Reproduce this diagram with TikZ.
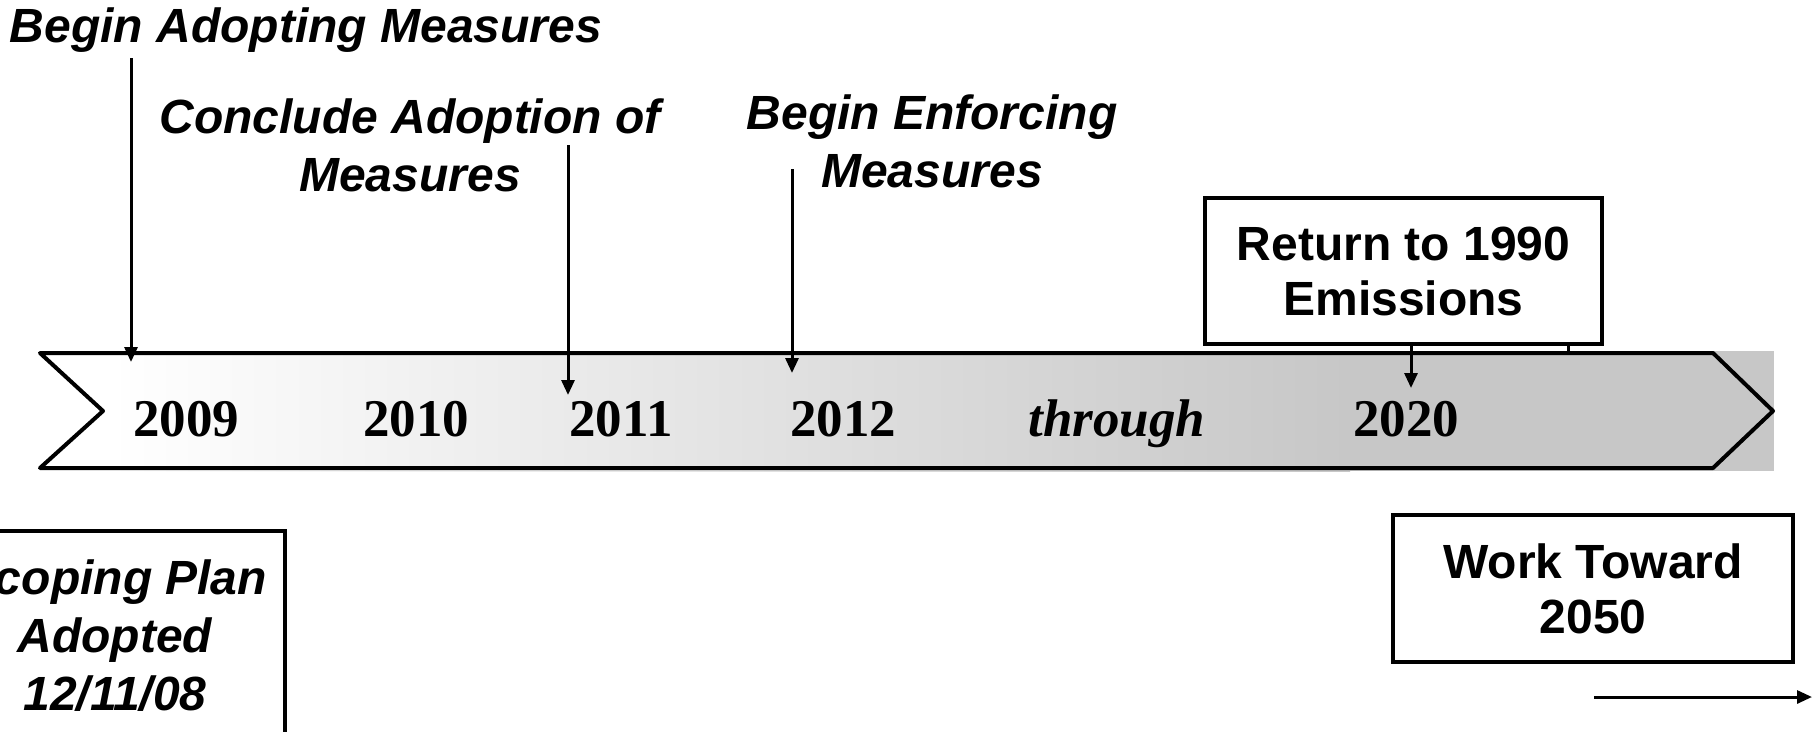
\documentclass[tikz,border=0pt]{standalone}
\usepackage{fontspec}
\setmainfont{Liberation Serif}
\newfontfamily\arialf{Liberation Sans}
\usetikzlibrary{arrows.meta}
\definecolor{bargray}{RGB}{199,199,199}
\tikzset{
  lbl/.style={font=\arialf\bfseries\itshape\fontsize{48}{58}\selectfont, align=center, inner sep=0pt},
  boxlbl/.style={draw, line width=3.5pt, font=\arialf\bfseries\fontsize{48}{55}\selectfont, align=center, inner sep=0pt},
  yr/.style={font=\bfseries\fontsize{53}{60}\selectfont, anchor=base, inner sep=0pt},
  pointer/.style={line width=3pt, -{Triangle[length=15pt,width=13pt]}},
}
\begin{document}
\begin{tikzpicture}[x=1pt,y=-1pt]
\useasboundingbox (0,0) rectangle (1818,731);
\clip (0,0) rectangle (1818,731);
% timeline bar
\fill[white] (40,351) rectangle (111,471);
\shade[left color=white, right color=bargray] (110,351) rectangle (1350,471);
\fill[bargray] (1349,351) rectangle (1774,471);
\draw[line width=4pt, line join=round] (40,353) -- (1713,353) -- (1773,411) -- (1713,468) -- (40,468) -- (103,411) -- cycle;
% years
\node[yr] (y2009) at (186,436) {2009};
\node[yr] (y2010) at (416,436) {2010};
\node[yr] (y2011) at (621,436) {2011};
\node[yr] (y2012) at (843,436) {2012};
\node[yr, font=\bfseries\itshape\fontsize{53}{60}\selectfont] (thr) at (1117,436) {through};
\node[yr] (y2020) at (1406,436) {2020};
% labels
\node[lbl] (adopt) at (306,30) {Begin Adopting Measures};
\node[lbl] (concl) at (410,145) {Conclude Adoption of\\Measures};
\node[lbl] (enf) at (932,141) {Begin Enforcing\\Measures};
\node[boxlbl, minimum width=397pt, minimum height=146pt] (ret) at (1403.5,271) {Return to 1990\\Emissions};
\node[boxlbl, minimum width=400pt, minimum height=147pt] (work) at (1593,588.5) {Work Toward\\2050};
\node[boxlbl, font=\arialf\bfseries\itshape\fontsize{48}{58}\selectfont, minimum width=340pt, minimum height=210pt] (scope) at (115,636) {Scoping Plan\\Adopted\\12/11/08};
% arrows
\coordinate (a1s) at (131,58);  \coordinate (a1e) at (131,362);
\coordinate (a2s) at (568,145); \coordinate (a2e) at (568,395);
\coordinate (a3s) at (792,169); \coordinate (a3e) at (792,373);
\coordinate (a4e) at (1411,388);
\coordinate (tk) at (1568,353);
\coordinate (b1) at (1594,697); \coordinate (b2) at (1812,697);
\draw[pointer] (a1s) -- (a1e);
\draw[pointer] (a2s) -- (a2e);
\draw[pointer] (a3s) -- (a3e);
\draw[pointer] (ret.south -| a4e) -- (a4e);
\draw[line width=3pt] (ret.south -| tk) -- (tk);
\draw[pointer] (b1) -- (b2);
\end{tikzpicture}
\end{document}
